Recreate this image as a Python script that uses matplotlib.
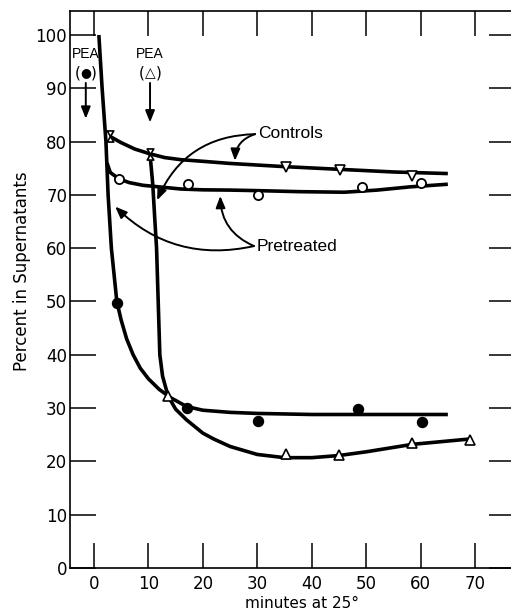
import matplotlib
matplotlib.use("Agg")
import matplotlib.pyplot as plt
from matplotlib.path import Path
from matplotlib.patches import FancyArrowPatch

# ---- measured data points ----
closed_t = [4.2, 17.0, 30.2, 48.5, 60.2]
closed_y = [49.8, 30.1, 27.5, 29.8, 27.4]

open_t = [4.6, 17.3, 30.1, 49.2, 60.1]
open_y = [73.0, 72.0, 70.0, 71.4, 72.3]

ctrl_t = [2.9, 10.3, 35.2, 45.2, 58.5]
ctrl_y = [81.0, 77.6, 75.3, 74.7, 73.5]

tri_t = [2.9, 10.3, 13.6, 35.2, 45.0, 58.4, 69.0]
tri_y = [81.0, 77.6, 32.3, 21.3, 21.2, 23.4, 24.0]

# ---- hand-drawn fit curves ----
fitA_t = [0.9, 1.5, 2.2, 2.6, 3.2, 3.7, 4.2, 5.0, 6.0, 7.2, 8.5, 10, 12, 14, 17, 20, 25, 30, 40, 50, 65]
fitA_y = [100, 90, 80, 70, 60, 55, 50, 46.5, 43, 40, 37.5, 35.5, 33.5, 32, 30.3, 29.6, 29.2, 29.0, 28.8, 28.8, 28.8]

fitB_t = [10.3, 10.8, 11.2, 11.5, 11.8, 12.1, 12.6, 13.6, 15, 17, 20, 22, 25, 30, 35, 40, 45, 50, 58.5, 69]
fitB_y = [77.6, 72, 65, 60, 50, 40, 36, 32.3, 29.8, 27.8, 25.3, 24.2, 22.8, 21.3, 20.7, 20.7, 21.1, 21.8, 23.2, 24.2]

fitC_t = [2.9, 5, 7.5, 10.3, 13, 16, 20, 25, 30, 35, 45, 55, 65]
fitC_y = [81.0, 79.8, 78.6, 77.7, 77.0, 76.6, 76.3, 75.9, 75.6, 75.3, 74.8, 74.3, 74.0]

fitD_t = [2.4, 3.0, 4.6, 6.5, 9, 12, 16, 20, 25, 30, 38, 46, 52, 58, 65]
fitD_y = [76.0, 74.2, 73.0, 72.3, 71.8, 71.5, 71.1, 70.95, 70.9, 70.8, 70.6, 70.5, 70.9, 71.5, 72.0]

x_ticks = [0, 10, 20, 30, 40, 50, 60, 70]
y_ticks = [0, 10, 20, 30, 40, 50, 60, 70, 80, 90, 100]

W, H = 511, 616
fig = plt.figure(figsize=(W / 100, H / 100), dpi=100)
ax = fig.add_axes([70 / W, 1 - 568 / H, 441 / W, 557 / H])
ax.set_xlim(-4.4, 76.6)
ax.set_ylim(0, 104.5)

for s in ("left", "top", "bottom"):
    ax.spines[s].set_linewidth(1.2)
ax.spines["right"].set_visible(False)

ax.set_xticks(x_ticks)
ax.set_yticks(y_ticks)
ax.set_xticklabels([str(v) for v in x_ticks])
ax.set_yticklabels([str(v) for v in y_ticks])
ax.tick_params(axis="x", direction="in", length=18, width=1.1, top=True,
               labelsize=12, pad=5)
ax.tick_params(axis="y", direction="in", length=18.5, width=1.1, right=True,
               labelsize=12, pad=2)
for t in ax.yaxis.get_major_ticks():
    t.tick2line.set_markersize(16)

lw = 2.6
for xs, ys in [(fitA_t, fitA_y), (fitB_t, fitB_y), (fitC_t, fitC_y), (fitD_t, fitD_y)]:
    ax.plot(xs, ys, color="k", lw=lw, solid_capstyle="butt", zorder=2)

# markers
ax.plot(closed_t, closed_y, "o", color="k", ms=7.2, zorder=4)
ax.plot(open_t, open_y, "o", mfc="white", mec="k", mew=1.3, ms=6.6, zorder=4)

# hourglass: down-triangle above, up-triangle below, apexes meeting
down_apex = Path([(-1, 1.7), (1, 1.7), (0, 0), (-1, 1.7)],
                 [Path.MOVETO, Path.LINETO, Path.LINETO, Path.CLOSEPOLY])
up_apex = Path([(-1, -1.7), (1, -1.7), (0, 0), (-1, -1.7)],
               [Path.MOVETO, Path.LINETO, Path.LINETO, Path.CLOSEPOLY])
ax.plot(ctrl_t[:2], ctrl_y[:2], linestyle="none", marker=down_apex, ms=8,
        mfc="white", mec="k", mew=1.2, zorder=4)
ax.plot(tri_t[:2], tri_y[:2], linestyle="none", marker=up_apex, ms=8,
        mfc="white", mec="k", mew=1.2, zorder=4)
ax.plot(ctrl_t[2:], ctrl_y[2:], "v", mfc="white", mec="k", mew=1.2, ms=7.5, zorder=4)
ax.plot(tri_t[2:], tri_y[2:], "^", mfc="white", mec="k", mew=1.2, ms=7.5, zorder=4)

# PEA labels and arrows
pea_font = ["Liberation Sans Narrow", "Liberation Sans", "DejaVu Sans"]
for xx, sym in [(-1.5, "●"), (10.3, "△")]:
    ax.text(xx, 96.4, "PEA", ha="center", va="center", fontsize=10, family=pea_font)
    ax.annotate("(", (xx, 92.9), xytext=(-6, 0), textcoords="offset points",
                ha="center", va="center", fontsize=11, family="DejaVu Sans")
    ax.annotate(")", (xx, 92.9), xytext=(6, 0), textcoords="offset points",
                ha="center", va="center", fontsize=11, family="DejaVu Sans")
    ax.annotate(sym, (xx, 92.9), xytext=(0, 0), textcoords="offset points",
                ha="center", va="center", fontsize=9 if sym == "●" else 10,
                family="DejaVu Sans")

astyle = "-|>,head_length=0.5,head_width=0.2"
for xx, y0, y1 in [(-1.5, 91.0, 84.3), (10.3, 91.0, 83.6)]:
    ax.add_patch(FancyArrowPatch((xx, y0), (xx, y1), arrowstyle=astyle,
                                 mutation_scale=14, lw=1.4, color="k",
                                 shrinkA=0, shrinkB=0, zorder=3))

# Controls / Pretreated annotations
lab_font = ["Liberation Sans", "DejaVu Sans"]
ax.text(30.1, 81.5, "Controls", ha="left", va="center", fontsize=12.5, family=lab_font)
ax.text(29.8, 60.4, "Pretreated", ha="left", va="center", fontsize=12.5, family=lab_font)

def carrow(p0, p1, rad):
    ax.add_patch(FancyArrowPatch(p0, p1, arrowstyle=astyle, mutation_scale=14,
                                 connectionstyle=f"arc3,rad={rad}", lw=1.4,
                                 color="k", shrinkA=0, shrinkB=0, zorder=3))

carrow((29.6, 81.4), (25.9, 76.4), 0.35)
carrow((29.6, 81.4), (11.6, 69.0), 0.32)
carrow((29.4, 60.4), (23.2, 69.8), -0.32)
carrow((29.4, 60.4), (3.9, 67.8), -0.27)

ax.set_ylabel("Percent in Supernatants", fontsize=12)
ax.yaxis.set_label_coords(-0.088, 55.6 / 104.5)
ax.set_xlabel("minutes at 25°", fontsize=11)
ax.xaxis.set_label_coords((38.2 + 4.4) / 81.0, -0.05)

fig.savefig("out.png", dpi=100)
